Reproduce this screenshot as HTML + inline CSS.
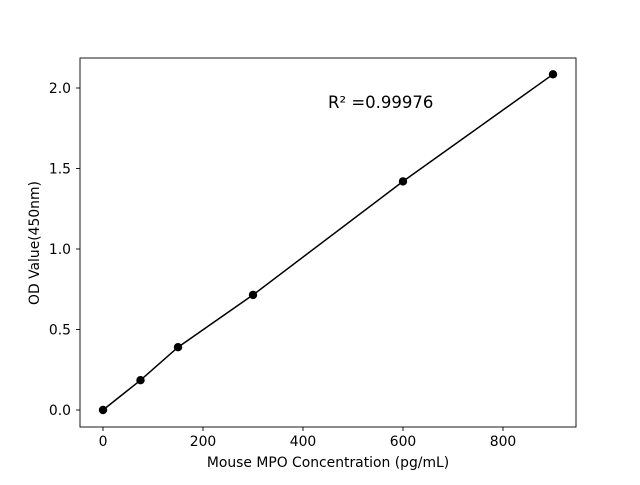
<!DOCTYPE html>
<html><head><meta charset="utf-8"><style>body{margin:0;background:#fff}</style></head>
<body>
<svg width="640" height="480" xmlns="http://www.w3.org/2000/svg" font-family="DejaVu Sans, sans-serif">
<rect x="80" y="58" width="496" height="369" fill="none" stroke="#000" stroke-width="0.9"/>
<g stroke="#000" stroke-width="0.9">
<line x1="103" y1="427" x2="103" y2="431"/>
<line x1="203" y1="427" x2="203" y2="431"/>
<line x1="303" y1="427" x2="303" y2="431"/>
<line x1="403" y1="427" x2="403" y2="431"/>
<line x1="503" y1="427" x2="503" y2="431"/>
<line x1="76" y1="410" x2="80" y2="410"/>
<line x1="76" y1="329.5" x2="80" y2="329.5"/>
<line x1="76" y1="249" x2="80" y2="249"/>
<line x1="76" y1="168.5" x2="80" y2="168.5"/>
<line x1="76" y1="88" x2="80" y2="88"/>
</g>
<g font-size="13.9" text-anchor="middle" fill="#000">
<text x="103" y="446">0</text>
<text x="203" y="446">200</text>
<text x="303" y="446">400</text>
<text x="403" y="446">600</text>
<text x="503" y="446">800</text>
<text x="328" y="467">Mouse MPO Concentration (pg/mL)</text>
</g>
<g font-size="13.9" text-anchor="end" fill="#000">
<text x="71" y="415">0.0</text>
<text x="71" y="334.5">0.5</text>
<text x="71" y="254">1.0</text>
<text x="71" y="173.5">1.5</text>
<text x="71" y="93">2.0</text>
</g>
<text transform="translate(39,243) rotate(-90)" font-size="13.9" text-anchor="middle">OD Value(450nm)</text>
<text x="328" y="108" font-size="16.5">R² =0.99976</text>
<polyline points="103,410 140.5,380.2 178,347.2 253,294.9 403,181.4 553,74.3" fill="none" stroke="#000" stroke-width="1.5"/>
<g fill="#000">
<circle cx="103" cy="410" r="4.2"/>
<circle cx="140.5" cy="380.2" r="4.2"/>
<circle cx="178" cy="347.2" r="4.2"/>
<circle cx="253" cy="294.9" r="4.2"/>
<circle cx="403" cy="181.4" r="4.2"/>
<circle cx="553" cy="74.3" r="4.2"/>
</g>
</svg>
</body></html>
